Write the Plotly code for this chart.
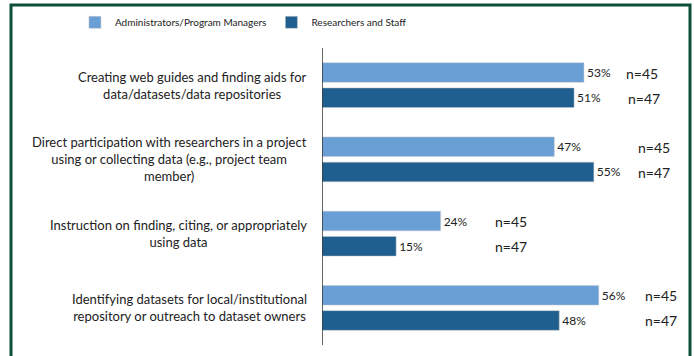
import plotly.graph_objects as go

categories = [
    "Creating web guides and finding aids for<br>data/datasets/data repositories",
    "Direct participation with researchers in a project<br>using or collecting data (e.g., project team<br>member)",
    "Instruction on finding, citing, or appropriately<br>using data",
    "Identifying datasets for local/institutional<br>repository or outreach to dataset owners",
]
admin_pct = [53, 47, 24, 56]
research_pct = [51, 55, 15, 48]
admin_n = [45, 45, 45, 45]
research_n = [47, 47, 47, 47]

# where the n= labels sit (in % units along x)
admin_n_x = [61, 63.5, 34.5, 65]
research_n_x = [61.5, 63.5, 34.5, 65]

LIGHT = "#6a9fd6"
DARK = "#1f5f8f"
FONT = "Lato"

fig = go.Figure()
fig.add_trace(go.Bar(
    y=categories, x=admin_pct, orientation="h", name="Administrators/Program Managers",
    marker=dict(color=LIGHT, line=dict(color="#c8c8c8", width=0.5)),
    text=[f"{v}%" for v in admin_pct], textposition="outside",
    textfont=dict(size=12, color="#222"), cliponaxis=False,
))
fig.add_trace(go.Bar(
    y=categories, x=research_pct, orientation="h", name="Researchers and Staff",
    marker=dict(color=DARK, line=dict(color="#c8c8c8", width=0.5)),
    text=[f"{v}%" for v in research_pct], textposition="outside",
    textfont=dict(size=12, color="#222"), cliponaxis=False,
))

annotations = []
for i, cat in enumerate(categories):
    annotations.append(dict(
        x=0, y=cat, xref="x", yref="y", text=cat, showarrow=False,
        xanchor="right", align="center", xshift=-13,
        font=dict(size=13, color="#222", family=FONT),
    ))
    annotations.append(dict(
        x=admin_n_x[i], y=i, yshift=12, xref="x", yref="y", text=f"n={admin_n[i]}",
        showarrow=False, xanchor="left", font=dict(size=14, color="#222", family=FONT),
    ))
    annotations.append(dict(
        x=research_n_x[i], y=i, yshift=-13, xref="x", yref="y", text=f"n={research_n[i]}",
        showarrow=False, xanchor="left", font=dict(size=14, color="#222", family=FONT),
    ))

fig.update_layout(
    width=694, height=356,
    margin=dict(l=11, r=4, t=48, b=11, autoexpand=False),
    barmode="group", bargap=0.32, bargroupgap=0.22,
    paper_bgcolor="white", plot_bgcolor="white",
    font=dict(family=FONT, size=12, color="#222"),
    showlegend=True,
    legend=dict(orientation="h", x=0.108, xref="container", xanchor="left",
                y=0.978, yref="container", yanchor="top",
                font=dict(size=10, family=FONT), traceorder="normal",
                bgcolor="rgba(0,0,0,0)", itemwidth=30),
    xaxis=dict(range=[0, 70], visible=False, domain=[311 / 679, 657 / 679]),
    yaxis=dict(autorange="reversed", showticklabels=False, showline=False, ticks=""),
    annotations=annotations,
    shapes=[
        dict(type="line", xref="x", yref="paper", x0=0, x1=0, y0=0, y1=1,
             line=dict(color="#333", width=1.5)),
        dict(type="rect", xref="paper", yref="paper",
             x0=0, x1=1.0, y0=-0.2, y1=1 + 43 / 297,
             line=dict(color="#0e4f3c", width=3), fillcolor="rgba(0,0,0,0)"),
    ],
)

fig.write_html("out.html", config={"displayModeBar": False},
               post_script="document.body.style.margin='0';")
